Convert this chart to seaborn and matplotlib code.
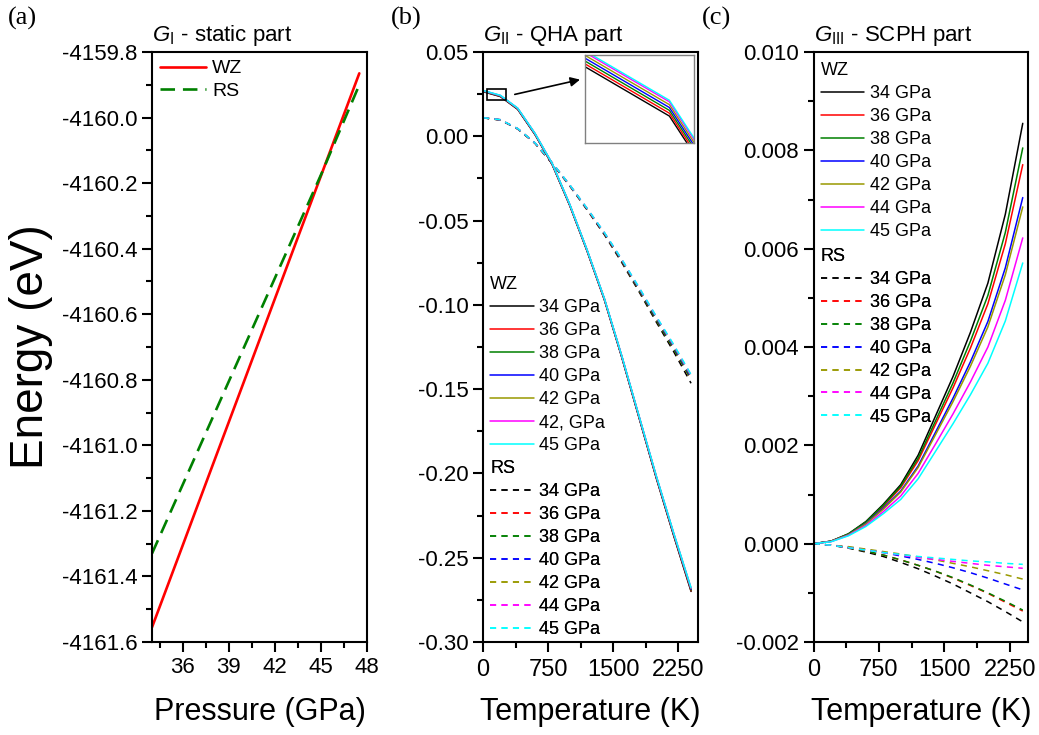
import matplotlib
matplotlib.use('Agg')
from matplotlib import pyplot as plt
from matplotlib.lines import Line2D
from matplotlib.patches import Rectangle
from matplotlib.ticker import MultipleLocator, FormatStrFormatter
import seaborn as sns

# (a) static part, E vs pressure
pressure = [34, 36, 38, 40, 42, 44, 45, 47.5]
static_wz = [-4161.555, -4161.305, -4161.054, -4160.804, -4160.553, -4160.303, -4160.178, -4159.865]
static_rs = [-4161.330, -4161.120, -4160.910, -4160.700, -4160.490, -4160.280, -4160.175, -4159.900]

# (b) QHA part, (c) SCPH part vs temperature
temps = [0, 200, 400, 600, 800, 1000, 1200, 1400, 1600, 1800, 2000, 2200, 2400]

qha_wz_34 = [0.02650, 0.02360, 0.01600, 0.00100, -0.01700, -0.04100, -0.06800, -0.09700, -0.13100, -0.16700, -0.20300, -0.23700, -0.27000]
qha_wz_36 = [0.02663, 0.02373, 0.01613, 0.00113, -0.01687, -0.04087, -0.06787, -0.09685, -0.13083, -0.16680, -0.20275, -0.23670, -0.26960]
qha_wz_38 = [0.02676, 0.02386, 0.01626, 0.00126, -0.01674, -0.04074, -0.06774, -0.09670, -0.13066, -0.16660, -0.20250, -0.23640, -0.26920]
qha_wz_40 = [0.02689, 0.02399, 0.01639, 0.00139, -0.01661, -0.04061, -0.06761, -0.09655, -0.13049, -0.16640, -0.20225, -0.23610, -0.26880]
qha_wz_42 = [0.02702, 0.02412, 0.01652, 0.00152, -0.01648, -0.04048, -0.06748, -0.09640, -0.13032, -0.16620, -0.20200, -0.23580, -0.26840]
qha_wz_44 = [0.02715, 0.02425, 0.01665, 0.00165, -0.01635, -0.04035, -0.06735, -0.09625, -0.13015, -0.16600, -0.20175, -0.23550, -0.26800]
qha_wz_45 = [0.02722, 0.02432, 0.01672, 0.00172, -0.01628, -0.04028, -0.06728, -0.09617, -0.13006, -0.16590, -0.20160, -0.23535, -0.26780]

qha_rs_34 = [0.01095, 0.00970, 0.00435, -0.00420, -0.01630, -0.02940, -0.04360, -0.05840, -0.07480, -0.09220, -0.11030, -0.12780, -0.14650]
qha_rs_36 = [0.01098, 0.00975, 0.00443, -0.00408, -0.01612, -0.02915, -0.04325, -0.05790, -0.07410, -0.09130, -0.10910, -0.12630, -0.14440]
qha_rs_38 = [0.01098, 0.00975, 0.00444, -0.00406, -0.01610, -0.02912, -0.04320, -0.05785, -0.07403, -0.09122, -0.10900, -0.12620, -0.14420]
qha_rs_40 = [0.01100, 0.00980, 0.00450, -0.00400, -0.01600, -0.02900, -0.04300, -0.05750, -0.07350, -0.09050, -0.10800, -0.12500, -0.14300]
qha_rs_42 = [0.01102, 0.00983, 0.00455, -0.00394, -0.01592, -0.02890, -0.04286, -0.05730, -0.07322, -0.09010, -0.10750, -0.12440, -0.14230]
qha_rs_44 = [0.01104, 0.00986, 0.00458, -0.00389, -0.01586, -0.02882, -0.04275, -0.05715, -0.07300, -0.08980, -0.10710, -0.12390, -0.14170]
qha_rs_45 = [0.01105, 0.00988, 0.00460, -0.00386, -0.01582, -0.02877, -0.04268, -0.05705, -0.07288, -0.08962, -0.10688, -0.12360, -0.14130]

scph_wz_34 = [0, 0.00005, 0.00020, 0.00045, 0.00080, 0.00120, 0.00180, 0.00260, 0.00340, 0.00430, 0.00530, 0.00670, 0.00855]
scph_wz_36 = [0, 0.00005, 0.00019, 0.00043, 0.00076, 0.00114, 0.00169, 0.00243, 0.00317, 0.00398, 0.00488, 0.00610, 0.00771]
scph_wz_38 = [0, 0.00005, 0.00020, 0.00044, 0.00078, 0.00117, 0.00174, 0.00250, 0.00327, 0.00412, 0.00505, 0.00633, 0.00805]
scph_wz_40 = [0, 0.00005, 0.00018, 0.00041, 0.00072, 0.00107, 0.00158, 0.00227, 0.00296, 0.00370, 0.00452, 0.00561, 0.00704]
scph_wz_42 = [0, 0.00005, 0.00018, 0.00040, 0.00070, 0.00105, 0.00155, 0.00222, 0.00289, 0.00361, 0.00441, 0.00547, 0.00685]
scph_wz_44 = [0, 0.00004, 0.00017, 0.00037, 0.00065, 0.00097, 0.00143, 0.00203, 0.00264, 0.00329, 0.00400, 0.00495, 0.00622]
scph_wz_45 = [0, 0.00004, 0.00016, 0.00035, 0.00061, 0.00090, 0.00132, 0.00188, 0.00244, 0.00303, 0.00367, 0.00453, 0.00571]

scph_rs_34 = [0, -0.00003, -0.00009, -0.00017, -0.00026, -0.00038, -0.00051, -0.00066, -0.00082, -0.00100, -0.00118, -0.00138, -0.00159]
scph_rs_36 = [0, -0.00003, -0.00008, -0.00015, -0.00023, -0.00033, -0.00044, -0.00056, -0.00070, -0.00085, -0.00101, -0.00119, -0.00137]
scph_rs_38 = [0, -0.00003, -0.00008, -0.00015, -0.00023, -0.00033, -0.00044, -0.00056, -0.00069, -0.00084, -0.00100, -0.00117, -0.00135]
scph_rs_40 = [0, -0.00003, -0.00007, -0.00012, -0.00018, -0.00025, -0.00032, -0.00040, -0.00049, -0.00059, -0.00070, -0.00082, -0.00094]
scph_rs_42 = [0, -0.00003, -0.00006, -0.00011, -0.00016, -0.00021, -0.00027, -0.00033, -0.00040, -0.00047, -0.00055, -0.00063, -0.00072]
scph_rs_44 = [0, -0.00003, -0.00008, -0.00013, -0.00018, -0.00023, -0.00028, -0.00032, -0.00036, -0.00040, -0.00044, -0.00047, -0.00050]
scph_rs_45 = [0, -0.00003, -0.00008, -0.00013, -0.00018, -0.00022, -0.00026, -0.00029, -0.00032, -0.00035, -0.00037, -0.00040, -0.00042]

colors = ['#000000', '#ff0000', '#008000', '#0000ff', '#999900', '#ff00ff', '#00ffff']
labels_b_wz = ['34 GPa', '36 GPa', '38 GPa', '40 GPa', '42 GPa', '42, GPa', '45 GPa']
labels_std = ['34 GPa', '36 GPa', '38 GPa', '40 GPa', '42 GPa', '44 GPa', '45 GPa']

qha_wz = [qha_wz_34, qha_wz_36, qha_wz_38, qha_wz_40, qha_wz_42, qha_wz_44, qha_wz_45]
qha_rs = [qha_rs_34, qha_rs_36, qha_rs_38, qha_rs_40, qha_rs_42, qha_rs_44, qha_rs_45]
scph_wz = [scph_wz_34, scph_wz_36, scph_wz_38, scph_wz_40, scph_wz_42, scph_wz_44, scph_wz_45]
scph_rs = [scph_rs_34, scph_rs_36, scph_rs_38, scph_rs_40, scph_rs_42, scph_rs_44, scph_rs_45]

DASH = (0, (4, 3.5))

sns.set_style('ticks')
plt.rcParams['font.family'] = ['Liberation Sans', 'DejaVu Sans']
plt.rcParams['axes.unicode_minus'] = False
plt.rcParams['mathtext.fontset'] = 'custom'
plt.rcParams['mathtext.it'] = 'Liberation Sans:italic'
plt.rcParams['mathtext.rm'] = 'Liberation Sans'
for k in ('text.color', 'axes.labelcolor', 'xtick.color', 'ytick.color', 'axes.edgecolor'):
    plt.rcParams[k] = 'black'


def style_axes(ax):
    for s in ax.spines.values():
        s.set_linewidth(1.5)
        s.set_color('black')
        s.set_visible(True)
    ax.tick_params(which='major', direction='out', length=7, width=1.5, color='black', labelsize=16)
    ax.tick_params(which='minor', direction='out', length=4, width=1.5, color='black')
    ax.tick_params(top=False, right=False, which='both')


def group_legend(ax, title, labels, ls, anchor):
    handles = [Line2D([], [], color=c, lw=1.1, linestyle=ls) for c in colors]
    leg = ax.legend(handles, labels, title=title, loc='upper left', bbox_to_anchor=anchor,
                    frameon=False, fontsize=13, title_fontsize=13, handlelength=2.4,
                    handletextpad=0.3, labelspacing=0.33, borderaxespad=0, borderpad=0.4,
                    alignment='left')
    ax.add_artist(leg)


fig = plt.figure(figsize=(10.39, 7.35), dpi=100)
ax_a = fig.add_axes([0.1463, 0.1265, 0.2069, 0.8027])
ax_b = fig.add_axes([0.4649, 0.1265, 0.2069, 0.8027])
ax_c = fig.add_axes([0.7830, 0.1265, 0.2064, 0.8027])

# ---- (a)
sns.lineplot(x=pressure, y=static_wz, color='#ff0000', lw=1.9, ax=ax_a, sort=False, estimator=None)
sns.lineplot(x=pressure, y=static_rs, color='#008000', lw=1.9, linestyle=(0, (5.5, 3)), ax=ax_a,
             sort=False, estimator=None)
ax_a.set_xlim(34, 48)
ax_a.set_ylim(-4161.6, -4159.8)
ax_a.set_xticks([36, 39, 42, 45, 48])
ax_a.xaxis.set_minor_locator(MultipleLocator(1.5))
ax_a.yaxis.set_major_locator(MultipleLocator(0.2))
ax_a.yaxis.set_minor_locator(MultipleLocator(0.1))
ax_a.yaxis.set_major_formatter(FormatStrFormatter('%.1f'))
style_axes(ax_a)
ax_a.set_xlabel('Pressure (GPa)', fontsize=22, labelpad=14)
ax_a.set_ylabel('Energy (eV)', fontsize=33, labelpad=6)
ax_a.set_title(r'$G_{\mathrm{I}}$ - static part', loc='left', fontsize=16, pad=8)
ha = [Line2D([], [], color='#ff0000', lw=1.9),
      Line2D([], [], color='#008000', lw=1.9, linestyle=(0, (5.5, 3)))]
ax_a.legend(ha, ['WZ', 'RS'], loc='upper left', bbox_to_anchor=(0, 1), frameon=False,
            fontsize=14, handlelength=2.4, handletextpad=0.3, labelspacing=0.25,
            borderaxespad=0, borderpad=0.4)

# ---- (b)
for vals, c in zip(qha_rs, colors):
    sns.lineplot(x=temps, y=vals, color=c, lw=1.1, linestyle=DASH, ax=ax_b, sort=False, estimator=None)
for vals, c in zip(qha_wz, colors):
    sns.lineplot(x=temps, y=vals, color=c, lw=1.1, ax=ax_b, sort=False, estimator=None)
ax_b.set_xlim(0, 2480)
ax_b.set_ylim(-0.30, 0.05)
ax_b.set_xticks([0, 750, 1500, 2250])
ax_b.xaxis.set_minor_locator(MultipleLocator(375))
ax_b.yaxis.set_major_locator(MultipleLocator(0.05))
ax_b.yaxis.set_minor_locator(MultipleLocator(0.025))
ax_b.yaxis.set_major_formatter(FormatStrFormatter('%.2f'))
style_axes(ax_b)
ax_b.set_title(r'$G_{\mathrm{II}}$ - QHA part', loc='left', fontsize=16, pad=8)
group_legend(ax_b, 'WZ', labels_b_wz, '-', (0.0, 0.632))
group_legend(ax_b, 'RS', labels_std, DASH, (0.0, 0.320))

# zoom box, arrow and inset
ax_b.add_patch(Rectangle((46, 0.0215), 219, 0.0066, fill=False, ec='black', lw=1.2, zorder=5))
ax_b.annotate('', xy=(1150, 0.034), xytext=(335, 0.0245),
              arrowprops=dict(arrowstyle='-|>', color='black', lw=1.2, mutation_scale=14))
ins = ax_b.inset_axes([0.474, 0.846, 0.507, 0.149])
for vals, c in zip(qha_wz, colors):
    sns.lineplot(x=temps, y=vals, color=c, lw=1.0, ax=ins, sort=False, estimator=None)
ins.set_xlim(45, 245)
ins.set_ylim(0.02238, 0.02638)
ins.set_xticks([])
ins.set_yticks([])
ins.set_xlabel('')
ins.set_ylabel('')
for s in ins.spines.values():
    s.set_color('#808080')
    s.set_linewidth(1.0)
    s.set_visible(True)

# ---- (c)
for vals, c in zip(scph_rs, colors):
    sns.lineplot(x=temps, y=vals, color=c, lw=1.1, linestyle=DASH, ax=ax_c, sort=False, estimator=None)
for vals, c in zip(scph_wz, colors):
    sns.lineplot(x=temps, y=vals, color=c, lw=1.1, ax=ax_c, sort=False, estimator=None)
ax_c.set_xlim(0, 2460)
ax_c.set_ylim(-0.002, 0.010)
ax_c.set_xticks([0, 750, 1500, 2250])
ax_c.xaxis.set_minor_locator(MultipleLocator(375))
ax_c.yaxis.set_major_locator(MultipleLocator(0.002))
ax_c.yaxis.set_minor_locator(MultipleLocator(0.001))
ax_c.yaxis.set_major_formatter(FormatStrFormatter('%.3f'))
style_axes(ax_c)
ax_c.set_title(r'$G_{\mathrm{III}}$ - SCPH part', loc='left', fontsize=16, pad=8)
group_legend(ax_c, 'WZ', labels_std, '-', (0.0, 0.995))
group_legend(ax_c, 'RS', labels_std, DASH, (0.0, 0.68))

for ax in (ax_b, ax_c):
    ax.set_xlabel('Temperature (K)', fontsize=22, labelpad=12)
    ax.tick_params(axis='x', labelsize=17, pad=5)

for x, s in ((0.008, '(a)'), (0.376, '(b)'), (0.676, '(c)')):
    fig.text(x, 0.99, s, fontsize=19, family=['Liberation Serif', 'DejaVu Serif'], va='top', ha='left')

fig.savefig('out.png', dpi=100)
